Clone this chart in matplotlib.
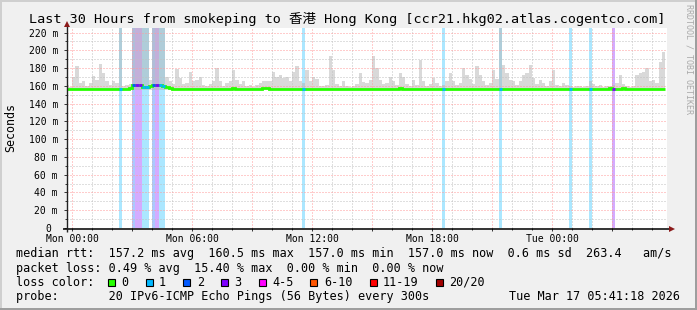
import numpy as np
import matplotlib
matplotlib.use('Agg')
import matplotlib.pyplot as plt
from matplotlib.patches import Rectangle

plt.rcParams['font.family'] = ['DejaVu Sans Mono', 'Noto Sans CJK SC']

# time axis: hours from Mon 00:00, one value every 10 minutes
start_hour = -1 / 3
step_hours = 1 / 6

# smoke (max rtt per step, ms) and its lower edge
smoke_floor = 155.5
smoke_top = [
    161, 159, 170, 182, 163, 165, 160, 163, 171, 167, 185, 174, 165, 161, 165, 163, 225, 160,
    161, 162, 225, 225, 225, 225, 225, 167, 225, 225, 225, 225, 170, 165, 162, 179, 169, 162,
    163, 176, 165, 167, 170, 161, 160, 162, 165, 180, 166, 160, 163, 165, 178, 167, 162, 165,
    160, 161, 159, 161, 163, 165, 166, 165, 176, 170, 172, 169, 170, 165, 176, 182, 165, 163,
    178, 165, 170, 168, 160, 160, 161, 194, 178, 162, 160, 165, 160, 159, 160, 162, 174, 164,
    163, 167, 194, 180, 167, 162, 163, 170, 165, 161, 174, 170, 162, 160, 167, 161, 189, 165,
    160, 162, 169, 163, 160, 161, 166, 174, 165, 161, 163, 180, 172, 168, 162, 182, 172, 165,
    161, 163, 178, 168, 225, 183, 174, 167, 166, 161, 165, 172, 174, 183, 169, 162, 167, 163,
    160, 165, 178, 161, 160, 163, 161, 160, 159, 160, 160, 159, 160, 165, 162, 160, 161, 159,
    160, 160, 161, 163, 172, 162, 160, 159, 160, 172, 174, 176, 180, 165, 167, 163, 187, 198,
]

# median rtt per step (ms)
median_rtt = [
    157, 157, 157, 157, 157, 157, 157, 157, 157, 157, 157, 157, 157, 157, 157, 157, 157, 157,
    157, 158, 160.5, 160.5, 160.5, 159, 159, 159.5, 160.5, 160.5, 160.5, 160, 158.5, 157.5, 157, 157, 157, 157,
    157, 157, 157, 157, 157, 157, 157, 157, 157, 157, 157, 157, 157, 157, 158, 157, 157, 157,
    157, 157, 157, 157, 157, 158, 158, 157, 157, 157, 157, 157, 157, 157, 157, 157, 157, 157,
    157, 157, 157, 157, 157, 157, 157, 157, 157, 157, 157, 157, 157, 157, 157, 157, 157, 157,
    157, 157, 157, 157, 157, 157, 157, 157, 157, 157, 158, 157, 157, 157, 157, 157, 157, 157,
    157, 157, 157, 157, 157, 157, 157, 157, 157, 157, 157, 157, 157, 157, 157, 157, 157, 157,
    157, 157, 157, 157, 157, 157, 157, 157, 157, 157, 157, 157, 157, 157, 157, 157, 157, 157,
    157, 157, 157, 157, 157, 157, 157, 157, 157, 157, 157, 157, 157, 157, 157, 157, 157, 157,
    157, 158, 157, 157, 157, 158, 157, 157, 157, 157, 157, 157, 157, 157, 157, 157, 157, 157,
]

# steps with packet loss (step index, lost pings)
loss_steps = [16, 20, 21, 22, 23, 24, 26, 27, 28, 29, 71, 113, 130, 151, 157, 164]
loss_count = [1, 2, 3, 3, 1, 1, 2, 3, 1, 1, 1, 1, 1, 1, 1, 3]

loss_labels = ['0', '1', '2', '3', '4-5', '6-10', '11-19', '20/20']
loss_colors = ['#26ff00', '#00b8ff', '#0059ff', '#7e00ff', '#ff00ff', '#ff5500', '#ff0000', '#a10000']

label_hours = [0, 6, 12, 18, 24]
tick_labels = ['Mon 00:00', 'Mon 06:00', 'Mon 12:00', 'Mon 18:00', 'Tue 00:00']
y_ticks = list(range(0, 221, 20))

title = 'Last 30 Hours from smokeping to 香港 Hong Kong [ccr21.hkg02.atlas.cogentco.com]'
line_rtt = 'median rtt:  157.2 ms avg  160.5 ms max  157.0 ms min  157.0 ms now  0.6 ms sd  263.4   am/s'
line_loss = 'packet loss: 0.49 % avg  15.40 % max  0.00 % min  0.00 % now'
line_probe = 'probe:       20 IPv6-ICMP Echo Pings (56 Bytes) every 300s'
stamp = 'Tue Mar 17 05:41:18 2026'

W, H = 697, 310
fig = plt.figure(figsize=(W / 100, H / 100), dpi=100, facecolor='#f0f0f0')
ax = fig.add_axes([67 / W, (H - 228) / H, 600 / W, 200 / H])
ax.set_facecolor('white')

n = len(smoke_top)
edges = start_hour + np.arange(n + 1) * step_hours
centers = (edges[:-1] + edges[1:]) / 2

# loss background bands
for i, c in zip(loss_steps, loss_count):
    ax.axvspan(edges[i], edges[i + 1], color=loss_colors[c], alpha=0.33, lw=0, zorder=1)

# smoke
top = np.array(smoke_top, dtype=float)
ax.bar(centers, top - smoke_floor, bottom=smoke_floor, width=step_hours,
       color='#b4b4b4', alpha=0.5, lw=0, zorder=1.2)

# median line, coloured by loss
ax.stairs(median_rtt, edges, color=loss_colors[0], lw=2.0, zorder=3, baseline=None)
for i, c in zip(loss_steps, loss_count):
    ax.hlines(median_rtt[i], edges[i], edges[i + 1], color=loss_colors[c], lw=2.0, zorder=3.5)

ax.set_xlim(-0.25, 29.75)
ax.set_ylim(0, 225.2)

major_x = np.arange(0, 30, 3)
ax.set_xticks(major_x)
ax.set_xticklabels([tick_labels[label_hours.index(h)] if h in label_hours else '' for h in major_x])
ax.set_xticks(np.arange(0, 30, 1), minor=True)
ax.set_yticks(y_ticks)
ax.set_yticklabels([f'{v} m' if v else '0 ' for v in y_ticks])
ax.set_yticks(np.arange(10, 225, 20), minor=True)

ax.tick_params(which='both', labelsize=7, direction='out', color='#333333', width=0.7)
ax.tick_params(which='major', length=2.5, pad=1.5)
ax.tick_params(which='minor', length=1.5)
ax.tick_params(axis='y', pad=4)

ax.set_axisbelow(False)
ax.grid(which='major', color='#ff9a9a', lw=0.72, ls=(0, (1, 2)), zorder=2)
ax.grid(which='minor', color='#c0c0c0', lw=0.72, ls=(0, (1, 2)), zorder=2)
for s in ax.spines.values():
    s.set_visible(False)

# overlay in pixel coordinates for axes lines, texts and legend
ov = fig.add_axes([0, 0, 1, 1])
ov.set_xlim(0, W)
ov.set_ylim(H, 0)
ov.axis('off')

ov.add_patch(Rectangle((0, 0), W, 2, color='#cfcfcf', lw=0))
ov.add_patch(Rectangle((0, 0), 2, H, color='#cfcfcf', lw=0))
ov.add_patch(Rectangle((0, H - 2), W, 2, color='#9e9e9e', lw=0))
ov.add_patch(Rectangle((W - 2, 0), 2, H, color='#9e9e9e', lw=0))

ov.plot([63, 670], [228.5, 228.5], color='black', lw=1.1, solid_capstyle='butt')
ov.plot([67, 67], [232, 25], color='#222222', lw=1.0, solid_capstyle='butt')
ov.plot([672], [228.5], marker='>', ms=4.5, color='#8b1a1a', mew=0)
ov.plot([67], [23.5], marker='^', ms=4.5, color='#8b1a1a', mew=0)

ov.text(347, 19, title, ha='center', va='center', fontsize=9.7)
ov.text(11, 128, 'Seconds', rotation=90, ha='center', va='center', fontsize=8.4)
ov.text(689, 4, 'RRDTOOL / TOBI OETIKER', rotation=270, ha='center', va='top',
        fontsize=6, color='#aaaaaa')

ov.text(16, 254, line_rtt, ha='left', va='center', fontsize=8.5)
ov.text(16, 268.3, line_loss, ha='left', va='center', fontsize=8.5)
ov.text(16, 282.3, 'loss color:', ha='left', va='center', fontsize=8.5)
ov.text(16, 296.7, line_probe, ha='left', va='center', fontsize=8.5)
ov.text(680, 296.7, stamp, ha='right', va='center', fontsize=8.5)

char_w = 7.14
x = 108
for lab, col in zip(loss_labels, loss_colors):
    ov.add_patch(Rectangle((x, 278.5), 7, 7, facecolor=col, edgecolor='black', lw=0.8))
    ov.text(x + 13.5, 282.3, lab, ha='left', va='center', fontsize=8.5)
    x += 13.5 + len(lab) * char_w + 17

fig.savefig('out.png', dpi=100, facecolor=fig.get_facecolor())
